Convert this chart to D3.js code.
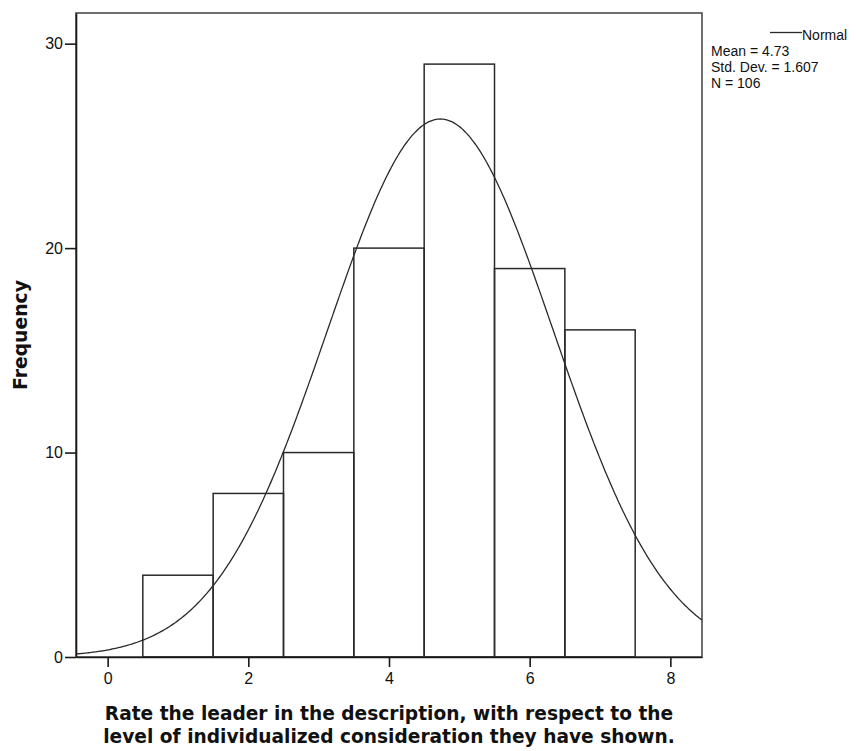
<!DOCTYPE html>
<html>
<head>
<meta charset="utf-8">
<script src="https://cdn.jsdelivr.net/npm/d3@7"></script>
<style>
  html, body { margin: 0; padding: 0; background: #fff; }
  svg { display: block; }
</style>
</head>
<body>
<svg id="chart" width="856" height="751"></svg>
<script>
// Histogram of ratings with a fitted normal curve
const binCenters = [1, 2, 3, 4, 5, 6, 7];
const frequencies = [4, 8, 10, 20, 29, 19, 16];
const xTicks = [0, 2, 4, 6, 8];
const yTicks = [0, 10, 20, 30];
const stats = { mean: 4.73, sd: 1.607, n: 106 };
const legendLines = ["Mean = 4.73", "Std. Dev. = 1.607", "N = 106"];
const xTitle = [
  "Rate the leader in the description, with respect to the",
  "level of individualized consideration they have shown."
];
const yTitle = "Frequency";

const svg = d3.select("#chart");
const plot = { left: 76, top: 13, right: 702, bottom: 657 };

const x = d3.scaleLinear().domain([-0.45, 8.45]).range([plot.left, plot.right]);
const y = d3.scaleLinear().domain([0, 31.5]).range([plot.bottom, plot.top]);

const ink = "#1a1a1a";
const titleFont = "'DejaVu Sans', Verdana, sans-serif";
const bodyFont = "'Liberation Sans', Arial, sans-serif";

// clip region for the curve
svg.append("defs").append("clipPath").attr("id", "plotClip")
  .append("rect")
  .attr("x", plot.left).attr("y", plot.top)
  .attr("width", plot.right - plot.left).attr("height", plot.bottom - plot.top);

// frame (top and right edges)
svg.append("rect")
  .attr("x", plot.left).attr("y", plot.top)
  .attr("width", plot.right - plot.left).attr("height", plot.bottom - plot.top)
  .attr("fill", "none").attr("stroke", "#4a4a4a").attr("stroke-width", 1.6);

// bars
svg.append("g").selectAll("rect")
  .data(binCenters.map((c, i) => ({ c, f: frequencies[i] })))
  .join("rect")
  .attr("x", d => x(d.c - 0.5))
  .attr("y", d => y(d.f))
  .attr("width", d => x(d.c + 0.5) - x(d.c - 0.5))
  .attr("height", d => y(0) - y(d.f))
  .attr("fill", "none")
  .attr("stroke", "#2a2a2a")
  .attr("stroke-width", 1.5);

// normal curve scaled to counts (bin width 1)
const pdf = v => stats.n / (stats.sd * Math.sqrt(2 * Math.PI)) *
  Math.exp(-0.5 * Math.pow((v - stats.mean) / stats.sd, 2));
const xs = d3.range(-0.45, 8.451, 0.02);
svg.append("path")
  .datum(xs)
  .attr("clip-path", "url(#plotClip)")
  .attr("fill", "none")
  .attr("stroke", "#2a2a2a")
  .attr("stroke-width", 1.3)
  .attr("d", d3.line().x(v => x(v)).y(v => y(pdf(v))).curve(d3.curveBasis));

// axes
const xAxis = svg.append("g")
  .attr("transform", `translate(0,${plot.bottom})`)
  .call(d3.axisBottom(x).tickValues(xTicks).tickSizeInner(10).tickSizeOuter(0)
    .tickPadding(6).tickFormat(d3.format("d")));
const yAxis = svg.append("g")
  .attr("transform", `translate(${plot.left},0)`)
  .call(d3.axisLeft(y).tickValues(yTicks).tickSizeInner(11).tickSizeOuter(0)
    .tickPadding(2).tickFormat(d3.format("d")));

[xAxis, yAxis].forEach(g => {
  g.select(".domain").attr("stroke", ink).attr("stroke-width", 1.6);
  g.selectAll(".tick line").attr("stroke", ink).attr("stroke-width", 1.6);
  g.selectAll(".tick text")
    .attr("fill", "#111")
    .style("font-family", bodyFont)
    .style("font-size", "16px");
});

// axis titles
const xt = svg.append("text")
  .attr("x", (plot.left + plot.right) / 2)
  .attr("y", 720)
  .attr("text-anchor", "middle")
  .style("font-family", titleFont)
  .style("font-weight", "bold")
  .style("font-size", "18.6px")
  .attr("fill", "#111");
xt.selectAll("tspan").data(xTitle).join("tspan")
  .attr("x", (plot.left + plot.right) / 2)
  .attr("dy", (d, i) => i === 0 ? 0 : 23)
  .text(d => d);

svg.append("text")
  .attr("transform", `translate(27,${(plot.top + plot.bottom) / 2}) rotate(-90)`)
  .attr("text-anchor", "middle")
  .style("font-family", titleFont)
  .style("font-weight", "bold")
  .style("font-size", "18.8px")
  .attr("fill", "#111")
  .text(yTitle);

// legend
const lg = svg.append("g").style("font-family", bodyFont)
  .style("font-size", "14px").attr("fill", "#111");
lg.append("line").attr("x1", 770).attr("x2", 802).attr("y1", 32.5).attr("y2", 32.5)
  .attr("stroke", "#2a2a2a").attr("stroke-width", 1.3);
lg.append("text").attr("x", 802).attr("y", 40).text("Normal");
lg.selectAll("text.stat").data(legendLines).join("text")
  .attr("class", "stat")
  .attr("x", 711)
  .attr("y", (d, i) => 56 + i * 16.2)
  .text(d => d);
</script>
</body>
</html>
